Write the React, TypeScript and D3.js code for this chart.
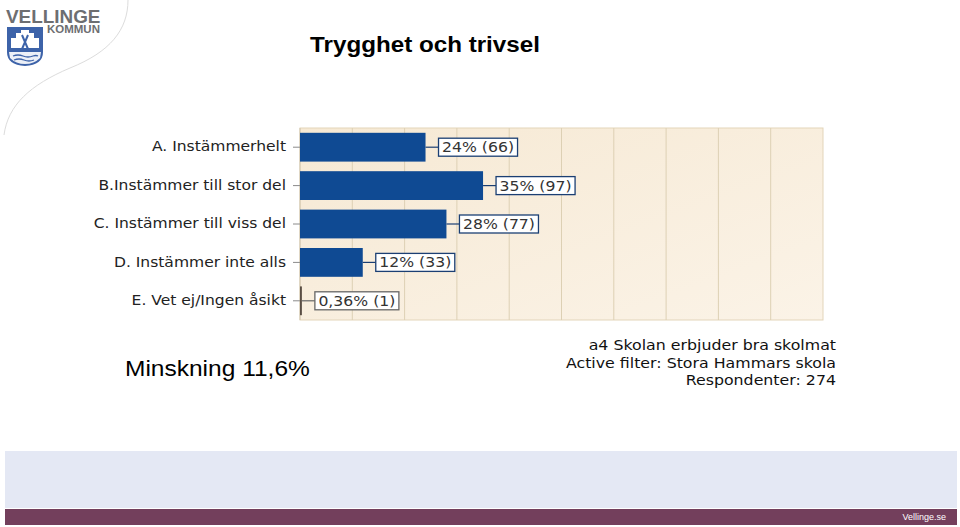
import React from "react";
import * as d3 from "d3";

const categories = [
  "A. Instämmerhelt",
  "B.Instämmer till stor del",
  "C. Instämmer till viss del",
  "D. Instämmer inte alls",
  "E. Vet ej/Ingen åsikt",
];
const percents = [24, 35, 28, 12, 0.36];
const valueLabels = ["24% (66)", "35% (97)", "28% (77)", "12% (33)", "0,36% (1)"];
const gridTicks = [0, 10, 20, 30, 40, 50, 60, 70, 80, 90, 100];
const infoLines = [
  "a4 Skolan erbjuder bra skolmat",
  "Active filter: Stora Hammars skola",
  "Respondenter: 274",
];

const W = 960;
const H = 527;
const plot = { left: 300, right: 823, top: 128, bottom: 320 };
const labelFont = "DejaVu Sans, Verdana, sans-serif";
const arial = "Liberation Sans, Arial, sans-serif";
// the slide image is stretched a little horizontally
const stretch = 1.1;

const measure = (() => {
  let ctx: CanvasRenderingContext2D | null = null;
  return (text: string, font: string) => {
    if (!ctx) ctx = document.createElement("canvas").getContext("2d");
    if (!ctx) return text.length * 8;
    ctx.font = font;
    return ctx.measureText(text).width;
  };
})();

type STextProps = {
  x: number;
  y: number;
  sx?: number;
  children: React.ReactNode;
} & React.SVGProps<SVGTextElement>;

const SText = ({ x, y, sx = stretch, children, ...rest }: STextProps) => (
  <g transform={`translate(${x},${y}) scale(${sx},1)`}>
    <text x={0} y={0} {...rest}>
      {children}
    </text>
  </g>
);

export default function App() {
  const x = d3.scaleLinear().domain([0, 100]).range([plot.left, plot.right]);
  const y = d3
    .scaleBand<string>()
    .domain(categories)
    .range([plot.top, plot.bottom])
    .paddingInner(0.25)
    .paddingOuter(0.125);

  const valueFontSize = 14;
  const valueFont = `${valueFontSize}px ${labelFont}`;
  const valueStretch = 1.12;

  return (
    <svg
      width={W}
      height={H}
      style={{ position: "absolute", left: 0, top: 0, display: "block", background: "#fff" }}
    >
      <defs>
        <linearGradient id="plotBg" x1="0" y1="0" x2="1" y2="1">
          <stop offset="0%" stopColor="#f6e9d4" />
          <stop offset="100%" stopColor="#fbf3e7" />
        </linearGradient>
      </defs>

      {/* decorative curve */}
      <path
        d="M128,0 C128,30 110,52 70,68 C30,85 8,105 4,135"
        fill="none"
        stroke="#dcdcdc"
        strokeWidth={1}
      />

      {/* logo */}
      <SText x={6} y={22.5} sx={1.08} fontFamily={arial} fontWeight="bold" fontSize={17.5} fill="#6d6e71">
        VELLINGE
      </SText>
      <SText x={47} y={32.5} sx={1.15} fontFamily={arial} fontWeight="bold" fontSize={10} fill="#6d6e71">
        KOMMUN
      </SText>
      <g>
        <path d="M7,27 L43,27 L43,52 Q43,65 25,66 Q7,65 7,52 Z" fill="#3d63a9" />
        <path d="M11,48 L11,38 L16,38 L16,33 L21,33 L21,30 L29,30 L29,33 L34,33 L34,38 L39,38 L39,48 Z" fill="#fff" />
        <path d="M9,52 L41,52 L40,58 Q34,64 25,64 Q16,64 10,58 Z" fill="#ffffff" opacity={0.9} />
        <path d="M13,56 Q18,54 23,56 Q28,58 33,56 Q36,55 38,56" fill="none" stroke="#3d63a9" strokeWidth={1.3} />
        <path d="M14,60 Q19,58 24,60 Q29,62 34,60" fill="none" stroke="#3d63a9" strokeWidth={1.3} />
        <path d="M22,35 L28,49 M28,35 L22,49" stroke="#3d63a9" strokeWidth={2} />
      </g>

      {/* title */}
      <SText x={425} y={52} textAnchor="middle" fontFamily={arial} fontWeight="bold" fontSize={22} fill="#000">
        Trygghet och trivsel
      </SText>

      {/* plot area */}
      <rect
        x={plot.left}
        y={plot.top}
        width={plot.right - plot.left}
        height={plot.bottom - plot.top}
        fill="url(#plotBg)"
        stroke="#e3d5ba"
      />
      {gridTicks.slice(1, -1).map((t) => (
        <line key={t} x1={x(t)} x2={x(t)} y1={plot.top} y2={plot.bottom} stroke="#ddd0b4" strokeWidth={1} />
      ))}
      <line x1={plot.left} x2={plot.left} y1={plot.top} y2={plot.bottom} stroke="#cfc4ad" />

      {categories.map((c, i) => {
        const by = y(c) ?? 0;
        const bh = y.bandwidth();
        const cy = by + bh / 2;
        const x1 = x(percents[i]);
        const tw = measure(valueLabels[i], valueFont) * valueStretch;
        const boxX = x1 + 13;
        const boxH = 18;
        const main = percents[i] >= 1;
        return (
          <g key={c}>
            <line x1={plot.left - 7} x2={plot.left} y1={cy} y2={cy} stroke="#8a8a8a" />
            <SText
              x={plot.left - 14}
              y={cy + 4.2}
              sx={1.11}
              textAnchor="end"
              fontFamily={labelFont}
              fontSize={14}
              fill="#222"
            >
              {c}
            </SText>
            {main ? (
              <rect x={plot.left} y={by} width={x1 - plot.left} height={bh} fill="#0f4a93" />
            ) : (
              <rect x={plot.left} y={by} width={Math.max(1.5, x1 - plot.left)} height={bh} fill="#5a4e44" />
            )}
            <line x1={x1} x2={boxX} y1={cy} y2={cy} stroke={main ? "#1b3f73" : "#666"} strokeWidth={1.2} />
            <rect
              x={boxX}
              y={cy - boxH / 2}
              width={tw + 7}
              height={boxH}
              fill="#fff"
              stroke={main ? "#1b3f73" : "#666"}
              strokeWidth={1.3}
            />
            <SText
              x={boxX + 3.5}
              y={cy + 5}
              sx={valueStretch}
              fontFamily={labelFont}
              fontSize={valueFontSize}
              fill="#333"
            >
              {valueLabels[i]}
            </SText>
          </g>
        );
      })}

      {/* side note */}
      <SText x={125} y={376} sx={1.09} fontFamily={arial} fontSize={22.5} fill="#000">
        Minskning 11,6%
      </SText>

      {/* info block */}
      {infoLines.map((line, i) => (
        <SText
          key={line}
          x={836}
          y={350 + i * 17.5}
          sx={1.09}
          textAnchor="end"
          fontFamily={labelFont}
          fontSize={14.5}
          fill="#111"
        >
          {line}
        </SText>
      ))}

      {/* footer */}
      <rect x={5} y={451} width={952} height={57} fill="#e4e8f4" />
      <rect x={5} y={509} width={952} height={16} fill="#733f5c" />
      <text x={946} y={520} textAnchor="end" fontFamily="Liberation Sans Narrow, Liberation Sans, Arial, sans-serif" fontSize={9} fill="#fff">
        Vellinge.se
      </text>
    </svg>
  );
}
